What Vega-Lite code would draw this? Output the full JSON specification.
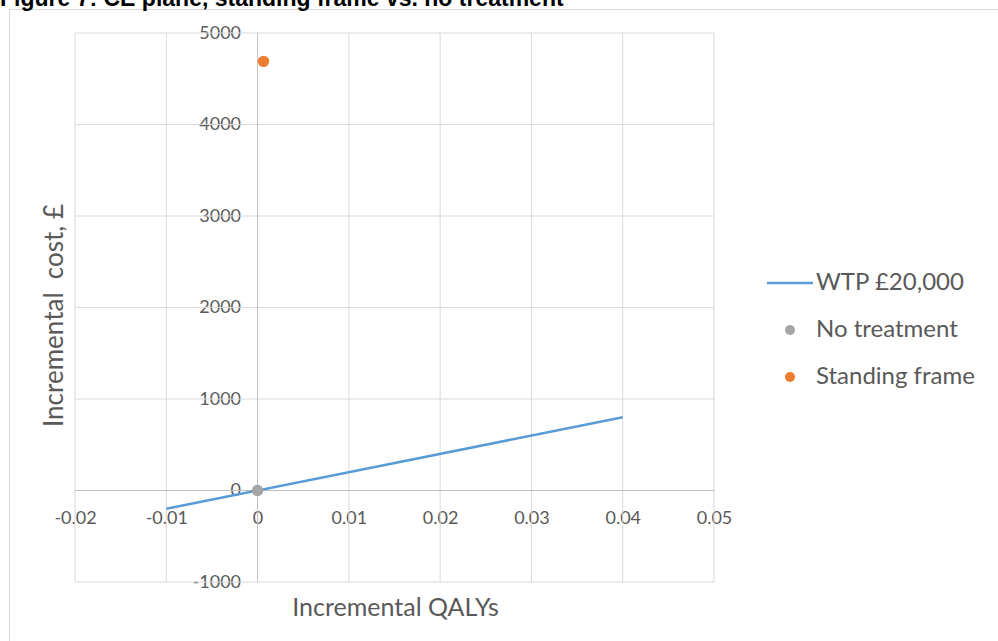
{
  "$schema": "https://vega.github.io/schema/vega-lite/v6.json",
  "width": 989,
  "height": 632,
  "autosize": {"type": "none"},
  "padding": {"left": 9, "top": 9, "right": 0, "bottom": 0},
  "background": "white",
  "config": {"view": {"stroke": "#d9d9d9", "strokeWidth": 1}, "font": "Lato"},
  "title": {
    "text": "Figure 7: CE plane, standing frame vs. no treatment",
    "anchor": "start",
    "frame": "group",
    "font": "Liberation Sans",
    "fontSize": 23,
    "fontWeight": "bold",
    "color": "#000000",
    "baseline": "alphabetic",
    "offset": 0,
    "dx": -9,
    "dy": 20
  },
  "datasets": {
    "vgrid": [
      {"qaly": -0.02, "cost": -1000, "cost2": 5000},
      {"qaly": -0.01, "cost": -1000, "cost2": 5000},
      {"qaly": 0.01, "cost": -1000, "cost2": 5000},
      {"qaly": 0.02, "cost": -1000, "cost2": 5000},
      {"qaly": 0.03, "cost": -1000, "cost2": 5000},
      {"qaly": 0.04, "cost": -1000, "cost2": 5000},
      {"qaly": 0.05, "cost": -1000, "cost2": 5000}
    ],
    "hgrid": [
      {"cost": -1000, "qaly": -0.02, "qaly2": 0.05},
      {"cost": 1000, "qaly": -0.02, "qaly2": 0.05},
      {"cost": 2000, "qaly": -0.02, "qaly2": 0.05},
      {"cost": 3000, "qaly": -0.02, "qaly2": 0.05},
      {"cost": 4000, "qaly": -0.02, "qaly2": 0.05},
      {"cost": 5000, "qaly": -0.02, "qaly2": 0.05}
    ],
    "vaxis": [{"qaly": 0, "cost": -1000, "cost2": 5000}],
    "haxis": [{"cost": 0, "qaly": -0.02, "qaly2": 0.05}],
    "wtp": [
      {"qaly": -0.01, "cost": -200, "series": "WTP £20,000"},
      {"qaly": 0.04, "cost": 800, "series": "WTP £20,000"}
    ],
    "pts": [
      {"qaly": 0, "cost": 0, "series": "No treatment"},
      {"qaly": 0.00065, "cost": 4690, "series": "Standing frame"}
    ]
  },
  "encoding": {
    "x": {
      "field": "qaly", "type": "quantitative",
      "scale": {"domain": [-0.02723, 0.08111], "nice": false, "zero": false},
      "axis": {
        "orient": "bottom", "offset": -150.5,
        "values": [-0.02, -0.01, 0, 0.01, 0.02, 0.03, 0.04, 0.05],
        "labelExpr": "datum.value < 0 ? '-' + format(-datum.value, '.2f') : (datum.value == 0 ? '0' : format(datum.value, '.2f'))",
        "domain": false, "ticks": false, "tickSize": 0, "grid": false,
        "labelPadding": 19, "labelFontSize": 18, "labelColor": "#595959", "labelFont": "Lato",
        "labelFlush": false, "labelOverlap": false,
        "title": "Incremental QALYs", "titleFontSize": 25, "titleFontWeight": "normal", "titleColor": "#595959", "titleFont": "Lato",
        "titleX": 386, "titleY": 116.5, "titleAlign": "center", "titleBaseline": "middle"
      }
    },
    "y": {
      "field": "cost", "type": "quantitative",
      "scale": {"domain": [-1644.8, 5262.3], "nice": false, "zero": false},
      "axis": {
        "orient": "left", "offset": -248.57,
        "values": [-1000, 0, 1000, 2000, 3000, 4000, 5000],
        "labelExpr": "datum.value < 0 ? '-' + format(-datum.value, 'd') : format(datum.value, 'd')",
        "domain": false, "ticks": false, "tickSize": 0, "grid": false,
        "labelPadding": 17, "labelFontSize": 18, "labelColor": "#595959", "labelFont": "Lato",
        "labelFlush": false, "labelOverlap": false,
        "title": "Incremental\u00a0 cost, £", "titleFontSize": 26, "titleFontWeight": "normal", "titleColor": "#595959", "titleFont": "Lato",
        "titleX": -202.6, "titleY": 306, "titleAngle": -90, "titleAlign": "center", "titleBaseline": "middle"
      }
    }
  },
  "layer": [
    {
      "data": {"name": "vgrid"},
      "mark": {"type": "rule", "color": "#d9d9d9", "strokeWidth": 1},
      "encoding": {"y2": {"field": "cost2"}}
    },
    {
      "data": {"name": "hgrid"},
      "mark": {"type": "rule", "color": "#d9d9d9", "strokeWidth": 1},
      "encoding": {"x2": {"field": "qaly2"}}
    },
    {
      "data": {"name": "vaxis"},
      "mark": {"type": "rule", "color": "#bfbfbf", "strokeWidth": 1},
      "encoding": {"y2": {"field": "cost2"}}
    },
    {
      "data": {"name": "haxis"},
      "mark": {"type": "rule", "color": "#bfbfbf", "strokeWidth": 1},
      "encoding": {"x2": {"field": "qaly2"}}
    },
    {
      "data": {"name": "wtp"},
      "mark": {"type": "line", "strokeWidth": 2.5},
      "encoding": {
        "color": {
          "field": "series", "type": "nominal",
          "scale": {"domain": ["WTP £20,000", "No treatment", "Standing frame"], "range": ["#5b9bd5", "#a5a5a5", "#ed7d31"]},
          "legend": {
            "orient": "none", "legendX": 769, "legendY": 262, "title": null, "padding": 0,
            "symbolType": "stroke", "symbolSize": 2116, "symbolStrokeWidth": 2.5,
            "labelFontSize": 24, "labelColor": "#595959", "labelFont": "Lato", "labelOffset": 14,
            "labelLimit": 400,
            "rowPadding": 23,
            "encode": {
              "symbols": {
                "update": {
                  "shape": {"signal": "datum.value === 'WTP £20,000' ? 'stroke' : 'circle'"},
                  "size": {"signal": "datum.value === 'WTP £20,000' ? 2116 : 100"},
                  "fill": {"signal": "datum.value === 'WTP £20,000' ? 'transparent' : scale('color', datum.value)"},
                  "stroke": {"signal": "scale('color', datum.value)"},
                  "strokeWidth": {"signal": "datum.value === 'WTP £20,000' ? 2.5 : 0"},
                  "opacity": {"value": 1}
                }
              }
            }
          }
        }
      }
    },
    {
      "data": {"name": "pts"},
      "mark": {"type": "point", "filled": true, "opacity": 1, "size": 130},
      "encoding": {
        "color": {"field": "series", "type": "nominal", "scale": {"domain": ["WTP £20,000", "No treatment", "Standing frame"], "range": ["#5b9bd5", "#a5a5a5", "#ed7d31"]}}
      }
    }
  ]
}
